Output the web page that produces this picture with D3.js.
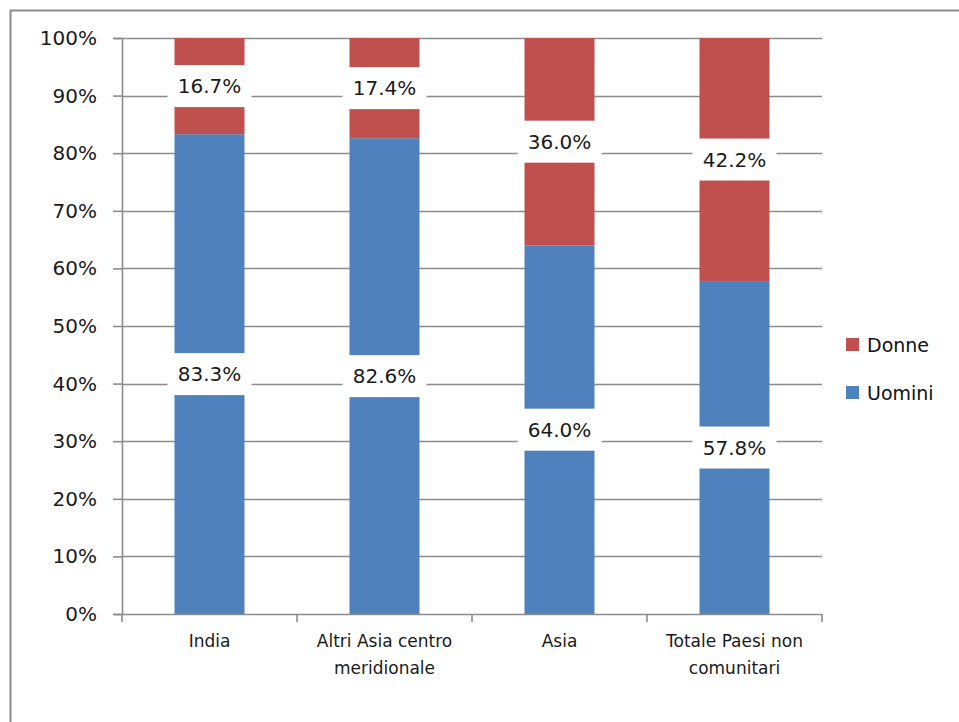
<!DOCTYPE html>
<html>
<head>
<meta charset="utf-8">
<script src="https://cdn.jsdelivr.net/npm/d3@7"></script>
<style>
  html, body { margin: 0; padding: 0; background: #fff; }
  svg { display: block; font-family: "DejaVu Sans", sans-serif; }
</style>
</head>
<body>
<svg id="chart" width="959" height="722"></svg>
<script>
const categories = [["India"], ["Altri Asia centro", "meridionale"], ["Asia"], ["Totale Paesi non", "comunitari"]];
const uomini = [83.3, 82.6, 64.0, 57.8];
const donne = [16.7, 17.4, 36.0, 42.2];
const yTicks = [0, 10, 20, 30, 40, 50, 60, 70, 80, 90, 100];
const seriesNames = ["Uomini", "Donne"];
const colors = { Uomini: "#4F81BD", Donne: "#C0504D" };

const svg = d3.select("#chart");

// outer chart frame (top and left visible)
svg.append("rect")
  .attr("x", 10.5).attr("y", 10.5)
  .attr("width", 1000).attr("height", 1000)
  .attr("fill", "none").attr("stroke", "#8a8a8a").attr("stroke-width", 2);

const plot = { left: 122, right: 822, top: 38, bottom: 614 };
const idx = categories.map((c, i) => i);

const x = d3.scaleBand().domain(idx).range([plot.left, plot.right])
  .paddingInner(0.6).paddingOuter(0.3);
const y = d3.scaleLinear().domain([0, 100]).range([plot.bottom, plot.top]);

const gridColor = "#8c8c8c";

// gridlines
svg.append("g").selectAll("line").data(yTicks.filter(t => t > 0)).join("line")
  .attr("x1", plot.left).attr("x2", plot.right)
  .attr("y1", d => Math.round(y(d)) + 0.5).attr("y2", d => Math.round(y(d)) + 0.5)
  .attr("stroke", gridColor).attr("stroke-width", 1.6);

// y axis
const yAxis = d3.axisLeft(y).tickValues(yTicks).tickFormat(d => d + "%").tickSize(9).tickPadding(16);
const gy = svg.append("g").attr("transform", `translate(${plot.left},0)`).call(yAxis);
gy.select(".domain").attr("stroke", gridColor).attr("stroke-width", 1.6);
gy.selectAll(".tick line").attr("stroke", gridColor).attr("stroke-width", 1.6);
gy.selectAll(".tick text").attr("font-size", 20).attr("fill", "#1a1a1a")
  .attr("font-family", "DejaVu Sans, sans-serif");

// stacked data
const stackData = idx.map(i => ({ i, Uomini: uomini[i], Donne: donne[i] }));
const stack = d3.stack().keys(seriesNames)(stackData);

const bars = svg.append("g");
stack.forEach(layer => {
  bars.append("g").selectAll("rect").data(layer).join("rect")
    .attr("x", d => x(d.data.i))
    .attr("width", x.bandwidth())
    .attr("y", d => y(d[1]))
    .attr("height", d => y(d[0]) - y(d[1]))
    .attr("fill", colors[layer.key]);
});

// x axis
const gx = svg.append("g").attr("transform", `translate(0,${plot.bottom})`);
gx.append("line").attr("x1", plot.left).attr("x2", plot.right).attr("y1", 0.5).attr("y2", 0.5)
  .attr("stroke", gridColor).attr("stroke-width", 1.6);
const boundaries = idx.map(i => x(i) - x.step() * x.paddingInner() / 2 - 0).concat([plot.right]);
gx.selectAll(".xt").data(d3.range(categories.length + 1)).join("line")
  .attr("x1", k => plot.left + k * x.step()).attr("x2", k => plot.left + k * x.step())
  .attr("y1", 0).attr("y2", 8)
  .attr("stroke", gridColor).attr("stroke-width", 1.6);
const xl = gx.selectAll(".xl").data(idx).join("text")
  .attr("text-anchor", "middle")
  .attr("font-size", 17).attr("fill", "#1a1a1a")
  .attr("transform", i => `translate(${x(i) + x.bandwidth() / 2},33)`);
xl.each(function(i) {
  const t = d3.select(this);
  categories[i].forEach((line, k) => {
    t.append("tspan").attr("x", 0).attr("y", k * 27).text(line);
  });
});

// data labels
const labels = svg.append("g");
stack.forEach(layer => {
  const g = labels.append("g").selectAll("g").data(layer).join("g")
    .attr("transform", d => `translate(${x(d.data.i) + x.bandwidth() / 2},${(y(d[0]) + y(d[1])) / 2})`);
  g.append("rect").attr("x", -42).attr("y", -21).attr("width", 84).attr("height", 42).attr("fill", "#fff");
  g.append("text").attr("text-anchor", "middle").attr("dy", "0.36em")
    .attr("font-size", 20).attr("fill", "#1a1a1a")
    .text(d => d.data[layer.key].toFixed(1) + "%");
});

// legend
const legendItems = ["Donne", "Uomini"];
const lg = svg.append("g").selectAll("g").data(legendItems).join("g")
  .attr("transform", (d, k) => `translate(846,${345 + k * 48})`);
lg.append("rect").attr("x", 0).attr("y", -7).attr("width", 13).attr("height", 13)
  .attr("fill", d => colors[d]);
lg.append("text").attr("x", 21).attr("dy", "0.36em").attr("font-size", 19).attr("fill", "#111")
  .text(d => d);
</script>
</body>
</html>
